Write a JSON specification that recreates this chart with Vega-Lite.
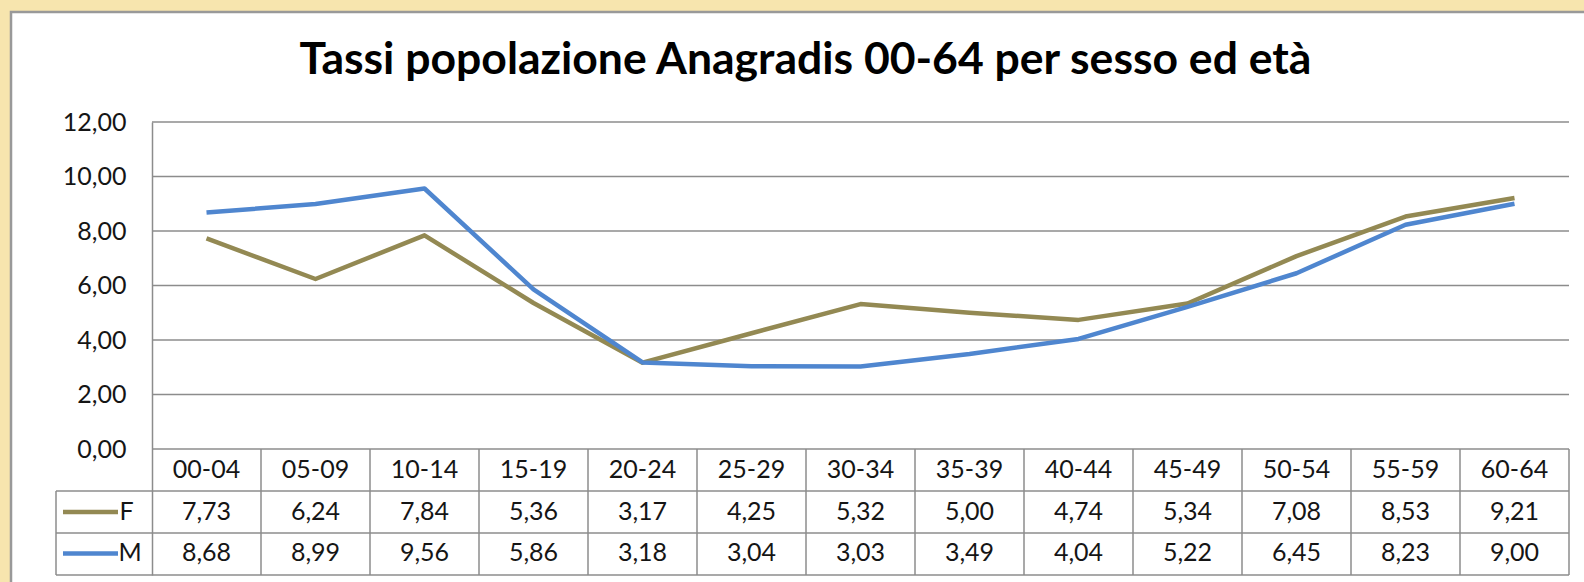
{
  "$schema": "https://vega.github.io/schema/vega-lite/v6.json",
  "autosize": {"type": "none"},
  "width": 1417,
  "height": 453,
  "padding": {"left": 152, "top": 122, "right": 15, "bottom": 7},
  "background": "#F7E5AE",
  "config": {
    "view": {"stroke": null},
    "font": "Lato",
    "locale": {"number": {"decimal": ",", "thousands": ".", "grouping": [3], "currency": ["", " €"]}}
  },
  "title": {
    "text": "Tassi popolazione Anagradis 00-64 per sesso ed età",
    "font": "Lato",
    "fontSize": 44.5,
    "fontWeight": "bold",
    "color": "#000000",
    "anchor": "middle",
    "frame": "group",
    "baseline": "alphabetic",
    "dx": -55,
    "offset": 0,
    "dy": 108
  },
  "data": {
    "values": [
      {"age": "00-04", "sex": "F", "value": 7.73},
      {"age": "05-09", "sex": "F", "value": 6.24},
      {"age": "10-14", "sex": "F", "value": 7.84},
      {"age": "15-19", "sex": "F", "value": 5.36},
      {"age": "20-24", "sex": "F", "value": 3.17},
      {"age": "25-29", "sex": "F", "value": 4.25},
      {"age": "30-34", "sex": "F", "value": 5.32},
      {"age": "35-39", "sex": "F", "value": 5.00},
      {"age": "40-44", "sex": "F", "value": 4.74},
      {"age": "45-49", "sex": "F", "value": 5.34},
      {"age": "50-54", "sex": "F", "value": 7.08},
      {"age": "55-59", "sex": "F", "value": 8.53},
      {"age": "60-64", "sex": "F", "value": 9.21},
      {"age": "00-04", "sex": "M", "value": 8.68},
      {"age": "05-09", "sex": "M", "value": 8.99},
      {"age": "10-14", "sex": "M", "value": 9.56},
      {"age": "15-19", "sex": "M", "value": 5.86},
      {"age": "20-24", "sex": "M", "value": 3.18},
      {"age": "25-29", "sex": "M", "value": 3.04},
      {"age": "30-34", "sex": "M", "value": 3.03},
      {"age": "35-39", "sex": "M", "value": 3.49},
      {"age": "40-44", "sex": "M", "value": 4.04},
      {"age": "45-49", "sex": "M", "value": 5.22},
      {"age": "50-54", "sex": "M", "value": 6.45},
      {"age": "55-59", "sex": "M", "value": 8.23},
      {"age": "60-64", "sex": "M", "value": 9.00}
    ]
  },
  "layer": [
    {
      "data": {"values": [{}]},
      "mark": {"type": "rect", "fill": "#FFFFFF", "stroke": "#999999", "strokeWidth": 2.5, "xOffset": -195.5, "x2Offset": 90, "yOffset": -110, "y2Offset": 30},
      "encoding": {
        "x": {"datum": "00-04", "type": "nominal", "scale": {"type": "point", "padding": 0.5}, "axis": null},
        "x2": {"datum": "60-64"},
        "y": {"datum": 12, "type": "quantitative", "scale": {"domain": [-4.62, 12], "nice": false, "zero": false},
              "axis": {"values": [0, 2, 4, 6, 8, 10, 12], "format": ".2f", "title": null, "grid": false, "ticks": false,
                       "labelFont": "Lato", "labelFontSize": 25, "labelColor": "#151515", "labelPadding": 26,
                       "domain": true, "domainColor": "#8c8c8c", "domainWidth": 1.5, "zindex": 1}},
        "y2": {"datum": -4.62}
      }
    },
    {
      "data": {"values": [{"tick": 0}, {"tick": 2}, {"tick": 4}, {"tick": 6}, {"tick": 8}, {"tick": 10}, {"tick": 12}]},
      "mark": {"type": "rule", "color": "#8c8c8c", "strokeWidth": 1.5},
      "encoding": {"y": {"field": "tick", "type": "quantitative", "title": null}}
    },
    {
      "transform": [{"filter": "datum.sex == 'F'"}],
      "mark": {"type": "rule", "color": "#8c8c8c", "strokeWidth": 1.5, "xOffset": 54.5, "x2Offset": 54.5},
      "encoding": {
        "x": {"field": "age", "type": "nominal", "axis": null},
        "y": {"datum": 0, "type": "quantitative"},
        "y2": {"datum": -4.62}
      }
    },
    {
      "data": {"values": [{}]},
      "layer": [
        {
          "mark": {"type": "rule", "color": "#8c8c8c", "strokeWidth": 1.5, "xOffset": -150.5, "x2Offset": 54.5},
          "encoding": {"x": {"datum": "00-04", "type": "nominal", "axis": null}, "x2": {"datum": "60-64"}, "y": {"datum": -1.534, "type": "quantitative"}}
        },
        {
          "mark": {"type": "rule", "color": "#8c8c8c", "strokeWidth": 1.5, "xOffset": -150.5, "x2Offset": 54.5},
          "encoding": {"x": {"datum": "00-04", "type": "nominal", "axis": null}, "x2": {"datum": "60-64"}, "y": {"datum": -3.075, "type": "quantitative"}}
        },
        {
          "mark": {"type": "rule", "color": "#8c8c8c", "strokeWidth": 1.5, "xOffset": -150.5, "x2Offset": 54.5},
          "encoding": {"x": {"datum": "00-04", "type": "nominal", "axis": null}, "x2": {"datum": "60-64"}, "y": {"datum": -4.62, "type": "quantitative"}}
        },
        {
          "mark": {"type": "rule", "color": "#8c8c8c", "strokeWidth": 1.5, "xOffset": -150.5, "x2Offset": -150.5},
          "encoding": {"x": {"datum": "00-04", "type": "nominal", "axis": null}, "y": {"datum": -1.534, "type": "quantitative"}, "y2": {"datum": -4.62}}
        },
        {
          "mark": {"type": "rule", "color": "#938953", "strokeWidth": 4.5, "xOffset": -143.5, "x2Offset": -88.5},
          "encoding": {"x": {"datum": "00-04", "type": "nominal", "axis": null}, "x2": {"datum": "00-04"}, "y": {"datum": -2.305, "type": "quantitative"}}
        },
        {
          "mark": {"type": "rule", "color": "#4F86CF", "strokeWidth": 4.5, "xOffset": -143.5, "x2Offset": -88.5},
          "encoding": {"x": {"datum": "00-04", "type": "nominal", "axis": null}, "x2": {"datum": "00-04"}, "y": {"datum": -3.83, "type": "quantitative"}}
        },
        {
          "mark": {"type": "text", "text": "F", "font": "Lato", "fontSize": 25, "color": "#151515", "align": "left", "baseline": "middle", "xOffset": -87},
          "encoding": {"x": {"datum": "00-04", "type": "nominal", "axis": null}, "y": {"datum": -2.305, "type": "quantitative"}}
        },
        {
          "mark": {"type": "text", "text": "M", "font": "Lato", "fontSize": 25, "color": "#151515", "align": "left", "baseline": "middle", "xOffset": -88},
          "encoding": {"x": {"datum": "00-04", "type": "nominal", "axis": null}, "y": {"datum": -3.83, "type": "quantitative"}}
        }
      ]
    },
    {
      "mark": {"type": "line", "strokeWidth": 4.5, "strokeJoin": "round"},
      "encoding": {
        "x": {"field": "age", "type": "nominal", "axis": null},
        "y": {"field": "value", "type": "quantitative"},
        "color": {"field": "sex", "type": "nominal", "scale": {"domain": ["F", "M"], "range": ["#938953", "#4F86CF"]}, "legend": null}
      }
    },
    {
      "transform": [{"filter": "datum.sex == 'F'"}],
      "mark": {"type": "text", "font": "Lato", "fontSize": 25, "color": "#151515", "baseline": "middle"},
      "encoding": {
        "x": {"field": "age", "type": "nominal", "axis": null},
        "y": {"datum": -0.763, "type": "quantitative"},
        "text": {"field": "age", "type": "nominal"}
      }
    },
    {
      "transform": [{"filter": "datum.sex == 'F'"}],
      "mark": {"type": "text", "font": "Lato", "fontSize": 25, "color": "#151515", "baseline": "middle"},
      "encoding": {
        "x": {"field": "age", "type": "nominal", "axis": null},
        "y": {"datum": -2.305, "type": "quantitative"},
        "text": {"field": "value", "type": "quantitative", "format": ".2f"}
      }
    },
    {
      "transform": [{"filter": "datum.sex == 'M'"}],
      "mark": {"type": "text", "font": "Lato", "fontSize": 25, "color": "#151515", "baseline": "middle"},
      "encoding": {
        "x": {"field": "age", "type": "nominal", "axis": null},
        "y": {"datum": -3.83, "type": "quantitative"},
        "text": {"field": "value", "type": "quantitative", "format": ".2f"}
      }
    }
  ]
}
